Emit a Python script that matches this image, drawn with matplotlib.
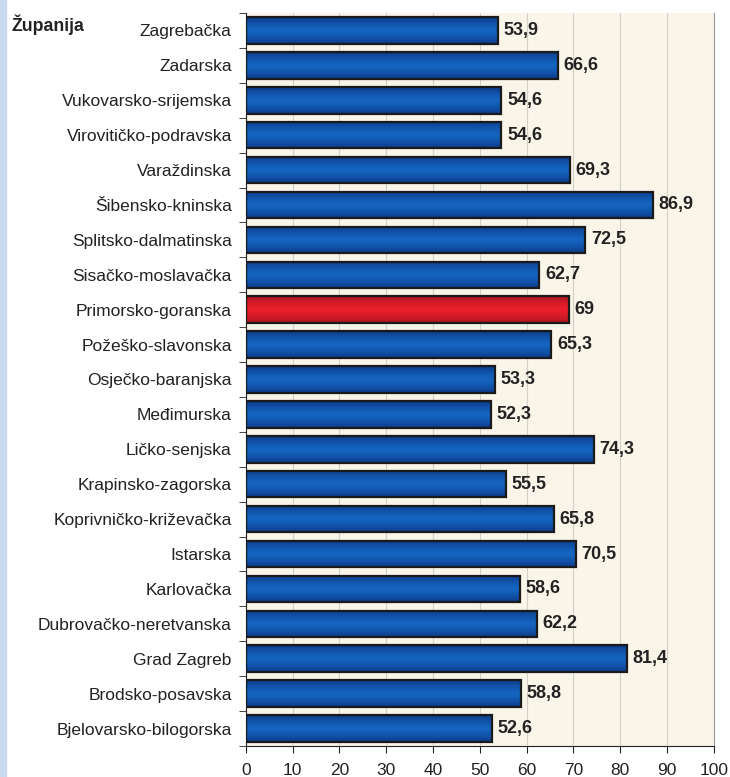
import numpy as np
from matplotlib import pyplot as plt
from matplotlib.patches import Rectangle

zupanije = ["Zagrebačka", "Zadarska", "Vukovarsko-srijemska", "Virovitičko-podravska",
            "Varaždinska", "Šibensko-kninska", "Splitsko-dalmatinska", "Sisačko-moslavačka",
            "Primorsko-goranska", "Požeško-slavonska", "Osječko-baranjska", "Međimurska",
            "Ličko-senjska", "Krapinsko-zagorska", "Koprivničko-križevačka", "Istarska",
            "Karlovačka", "Dubrovačko-neretvanska", "Grad Zagreb", "Brodsko-posavska",
            "Bjelovarsko-bilogorska"]
vrijednosti = [53.9, 66.6, 54.6, 54.6, 69.3, 86.9, 72.5, 62.7, 69, 65.3, 53.3, 52.3,
               74.3, 55.5, 65.8, 70.5, 58.6, 62.2, 81.4, 58.8, 52.6]
istaknuto = "Primorsko-goranska"

plt.rcParams['font.family'] = ['Liberation Sans', 'DejaVu Sans']

fig = plt.figure(figsize=(7.3, 7.77), dpi=100)
fig.patches.append(Rectangle((0, 0), 6 / 730, 1, transform=fig.transFigure,
                             color="#c9d9f0", zorder=0))
ax = fig.add_axes([0.3366, 0.0399, 0.6414, 0.9434])
ax.set_facecolor("#faf5e9")

n = len(zupanije)
pos = np.arange(n)[::-1]
visina = 0.76

# gradijent preko trake: tamni rubovi, svjetlija sredina
t = np.linspace(0, 1, 64)
profil = 1 - np.abs(t - 0.5) * 2
k = profil ** 0.6
plava_tamna = np.array([0.04, 0.20, 0.50])
plava_svijetla = np.array([0.08, 0.40, 0.76])
crvena_tamna = np.array([0.62, 0.08, 0.12])
crvena_svijetla = np.array([0.93, 0.12, 0.17])

for y, v, ime in zip(pos, vrijednosti, zupanije):
    if ime == istaknuto:
        c0, c1 = crvena_tamna, crvena_svijetla
    else:
        c0, c1 = plava_tamna, plava_svijetla
    img = (c0[None, :] * (1 - k[:, None]) + c1[None, :] * k[:, None])[:, None, :]
    rect = Rectangle((0, y - visina / 2), v, visina, facecolor="none",
                     edgecolor="#1a1a1a", linewidth=1.6, zorder=3)
    ax.add_patch(rect)
    im = ax.imshow(img, extent=(0, v, y - visina / 2, y + visina / 2),
                   aspect="auto", zorder=2, interpolation="bilinear")
    im.set_clip_path(rect)
    ax.text(v + 1.2, y, f"{v:g}".replace(".", ","), va="center", ha="left",
            fontsize=13, fontweight="bold", color="#222222", zorder=4)

ax.set_xlim(0, 100)
ax.set_ylim(-0.5, n - 0.5)
ax.set_xticks(np.arange(0, 101, 10))
ax.tick_params(axis="x", labelsize=12.5, length=5, direction="out", colors="#222222",
               pad=7)
ax.set_yticks(pos)
ax.set_yticklabels(zupanije, fontsize=12.5, color="#222222")
ax.set_yticks(np.arange(-0.5, n, 1), minor=True)
ax.tick_params(axis="y", which="major", length=0, pad=10)
ax.tick_params(axis="y", which="minor", length=5, direction="out", color="#222222")

ax.grid(axis="x", color="#d4d0c8", linewidth=0.8, zorder=1)
ax.set_axisbelow(True)
ax.spines["top"].set_visible(False)
ax.spines["right"].set_color("#999999")
ax.spines["left"].set_color("#222222")
ax.spines["bottom"].set_color("#222222")

fig.text(12 / 730, 1 - 25 / 777, "Županija", fontsize=12.8, fontweight="bold",
         color="#222222", va="center", ha="left")

plt.savefig("out.png", dpi=100)
